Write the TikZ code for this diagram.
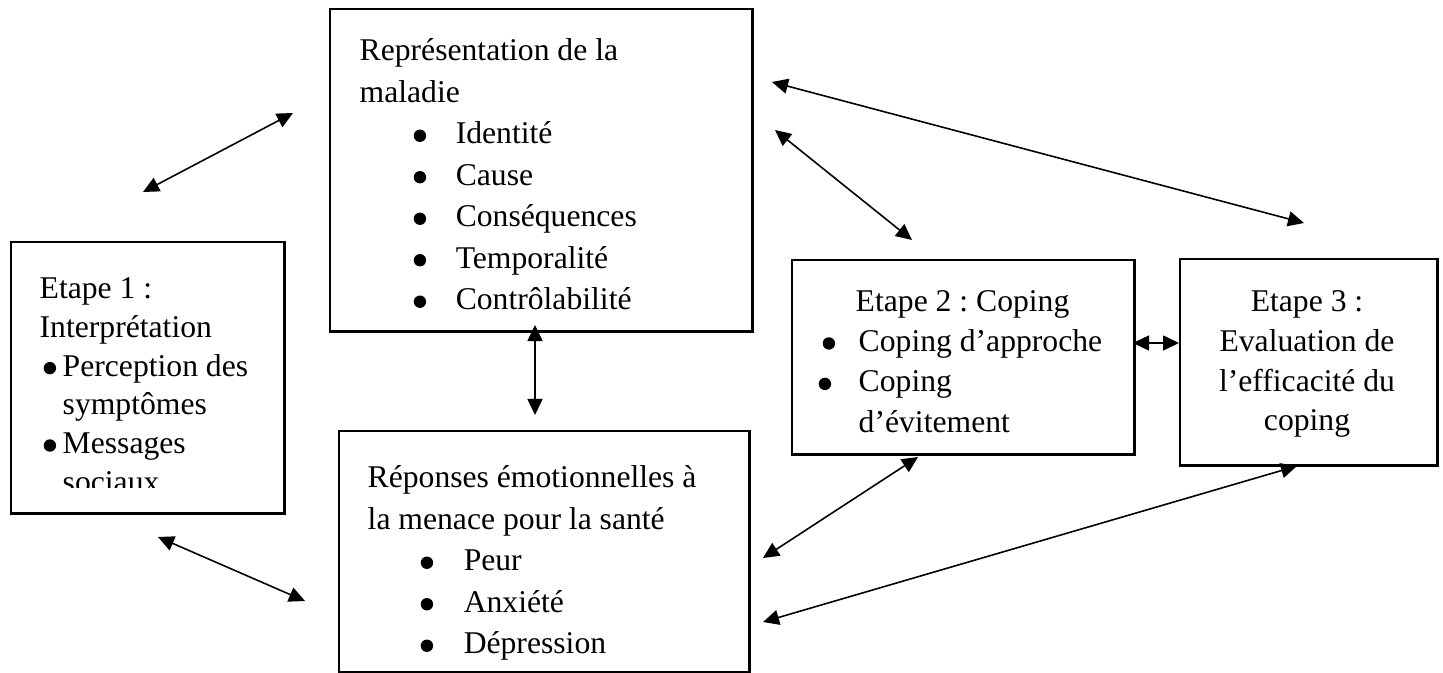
\documentclass[tikz,border=0pt]{standalone}
\usepackage{fontspec}
\setmainfont{Liberation Serif}
\usepackage{tikz}
\usetikzlibrary{arrows.meta,positioning}
\frenchspacing
\newcommand{\puce}{\tikz[baseline=-0.08cm]\fill (0,0) circle (0.062cm);}
\tikzset{
	boite/.style={draw,line width=0.7pt,anchor=north west,inner sep=0pt},
	texte/.style={anchor=north west,inner sep=0pt,align=left,font=\fontsize{9}{11.8}\selectfont},
	fleche/.style={{Triangle[length=0.16cm,width=0.15cm]}-{Triangle[length=0.16cm,width=0.15cm]},line width=0.45pt}
}
\begin{document}
\begin{tikzpicture}[x=0.01cm,y=-0.01cm]
		\useasboundingbox (0,0) rectangle (1443,673);
		% boites
		\node [boite,minimum width=4.22cm,minimum height=3.22cm] (rep) at (329,8) {};
		\node [boite,minimum width=2.73cm,minimum height=2.71cm] (etapeun) at (10,241) {};
		\node [boite,minimum width=4.10cm,minimum height=2.41cm] (reponses) at (338,430) {};
		\node [boite,minimum width=3.42cm,minimum height=1.94cm] (etapedeux) at (791,259) {};
		\node [boite,minimum width=2.57cm,minimum height=2.06cm] (etapetrois) at (1179,258) {};
		% textes
		\node [texte] (reptxt) at (359,31) {\strut Représentation de la\\ maladie\\
			\hspace*{0.54cm}\makebox[0.42cm][l]{\puce}Identité\\
			\hspace*{0.54cm}\makebox[0.42cm][l]{\puce}Cause\\
			\hspace*{0.54cm}\makebox[0.42cm][l]{\puce}Conséquences\\
			\hspace*{0.54cm}\makebox[0.42cm][l]{\puce}Temporalité\\
			\hspace*{0.54cm}\makebox[0.42cm][l]{\puce}Contrôlabilité};
		\begin{scope}
		\clip (10,241) rectangle (283,487);
		\node [texte,font=\fontsize{9}{11}\selectfont] (etapeuntxt) at (39,271) {\strut Etape 1 :\\ Interprétation\\
			\hspace*{0.04cm}\makebox[0.19cm][l]{\puce}Perception des\\ \hspace*{0.23cm}symptômes\\
			\hspace*{0.04cm}\makebox[0.19cm][l]{\puce}Messages\\ \hspace*{0.23cm}sociaux};
		\end{scope}
		\node [texte] (reponsestxt) at (367,458) {\strut Réponses émotionnelles à\\ la menace pour la santé\\
			\hspace*{0.53cm}\makebox[0.43cm][l]{\puce}Peur\\
			\hspace*{0.53cm}\makebox[0.43cm][l]{\puce}Anxiété\\
			\hspace*{0.53cm}\makebox[0.43cm][l]{\puce}Dépression};
		\node [texte,font=\fontsize{9}{11.5}\selectfont] (etapedeuxtxt) at (818,282) {\strut\hspace*{0.37cm}Etape 2 : Coping\\
			\hspace*{0.04cm}\makebox[0.36cm][l]{\puce}Coping d’approche\\
			\makebox[0.40cm][l]{\puce}Coping\\ \hspace*{0.40cm}d’évitement};
		\node [texte,anchor=north,align=center,font=\fontsize{9}{11.3}\selectfont] (etapetroistxt) at (1307,283) {\strut Etape 3 :\\ Evaluation de\\ l’efficacité du\\ coping};
		% bouts des fleches
		\coordinate (a1) at (143,192);
		\coordinate (a2) at (293,113);
		\coordinate (b1) at (772,82);
		\coordinate (b2) at (1304,223);
		\coordinate (c1) at (775,130);
		\coordinate (c2) at (912,240);
		\coordinate (d1) at (535,325);
		\coordinate (d2) at (535,415);
		\coordinate (e1) at (1133,343);
		\coordinate (e2) at (1179,343);
		\coordinate (f1) at (158,537);
		\coordinate (f2) at (305,601);
		\coordinate (g1) at (763,558);
		\coordinate (g2) at (918,457);
		\coordinate (h1) at (763,622);
		\coordinate (h2) at (1297,466);
		% fleches
		\draw [fleche] (a1)--(a2);
		\draw [fleche] (b1)--(b2);
		\draw [fleche] (c1)--(c2);
		\draw [fleche] (d1)--(d2);
		\draw [fleche] (e1)--(e2);
		\draw [fleche] (f1)--(f2);
		\draw [fleche] (g1)--(g2);
		\draw [fleche] (h1)--(h2);
\end{tikzpicture}
\end{document}
